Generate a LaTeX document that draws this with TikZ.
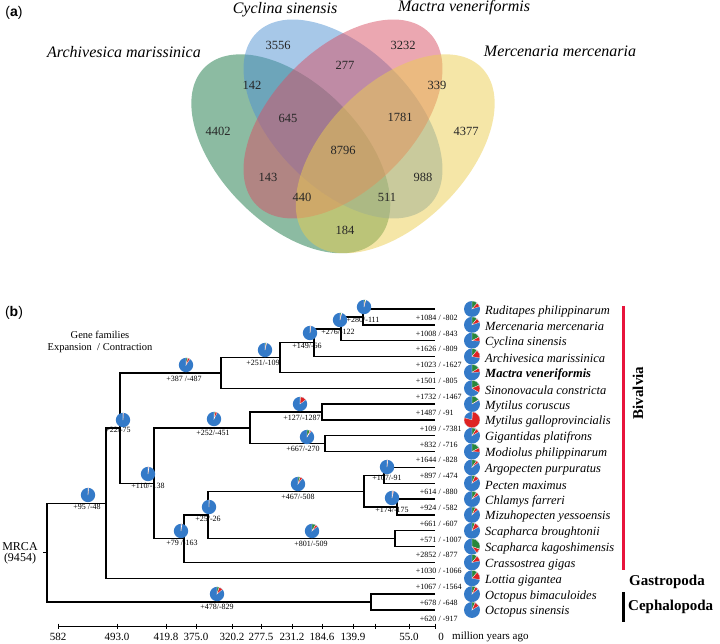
\documentclass[tikz,border=0pt]{standalone}
\usepackage{fontspec}
\setmainfont{Liberation Serif}
\newfontfamily\labsans{Liberation Sans}
\definecolor{vgreen}{RGB}{25,120,70}
\definecolor{vblue}{RGB}{80,145,210}
\definecolor{vred}{RGB}{215,80,100}
\definecolor{vyellow}{RGB}{235,205,80}
\definecolor{pblue}{RGB}{52,122,200}
\definecolor{pgreen}{RGB}{40,135,60}
\definecolor{pred}{RGB}{222,35,35}
\definecolor{barred}{RGB}{232,20,60}
\newcommand\mypie[5]{%
  \pgfmathsetmacro\pga{90-0.0380791*#3}%
  \pgfmathsetmacro\pgb{\pga-0.0380791*#4}%
  \fill[pblue] (#1,#2) circle[radius=#5];
  \fill[pgreen,draw=white,line width=0.25pt] (#1,#2) -- ++(90:#5) arc[start angle=90,end angle=\pga,radius=#5] -- cycle;
  \fill[pred,draw=white,line width=0.25pt] (#1,#2) -- ++(\pga:#5) arc[start angle=\pga,end angle=\pgb,radius=#5] -- cycle;
}
\begin{document}
\begin{tikzpicture}[x=1pt,y=-1pt,
  br/.style={line width=1.4pt},
  sp/.style={anchor=west, inner sep=0pt, font=\fontsize{12.5}{14}\selectfont\itshape},
  lab/.style={inner sep=0pt, font=\fontsize{8}{9}\selectfont},
  vnum/.style={font=\fontsize{12.5}{14}\selectfont, text=black!85},
  vname/.style={font=\fontsize{16}{18}\selectfont\itshape},
  grp/.style={font=\fontsize{15}{17}\selectfont\bfseries, inner sep=0pt},
  panel/.style={font=\fontsize{14}{16}\selectfont\labsans, inner sep=0pt},
  tk/.style={font=\fontsize{11}{12}\selectfont, inner sep=0pt}]
\useasboundingbox (0,0) rectangle (720,644);

% ---------- (a) Venn ----------
\node[panel] (pa) at (14,13) {(\textbf{a})};
\fill[vgreen, fill opacity=.5, rotate around={-45:(290.8,153.8)}] (290.8,153.8) ellipse [x radius=122pt, y radius=70pt];
\fill[vblue, fill opacity=.5, rotate around={-45:(343,119)}] (343,119) ellipse [x radius=122pt, y radius=70pt];
\fill[vred, fill opacity=.5, rotate around={45:(343,119)}] (343,119) ellipse [x radius=122pt, y radius=70pt];
\fill[vyellow, fill opacity=.5, rotate around={45:(395.2,153.8)}] (395.2,153.8) ellipse [x radius=122pt, y radius=70pt];

\node[vname] (nB) at (285,10) {Cyclina sinensis};
\node[vname] (nC) at (464,8) {Mactra veneriformis};
\node[vname] (nA) at (124,52) {Archivesica marissinica};
\node[vname] (nD) at (560,51) {Mercenaria mercenaria};

\node[vnum] (r1) at (278,45) {3556};
\node[vnum] (r2) at (403,45) {3232};
\node[vnum] (r3) at (345,65) {277};
\node[vnum] (r4) at (252,85) {142};
\node[vnum] (r5) at (437,85) {339};
\node[vnum] (r6) at (288,118) {645};
\node[vnum] (r7) at (400,117) {1781};
\node[vnum] (r8) at (218,131) {4402};
\node[vnum] (r9) at (466,131) {4377};
\node[vnum] (r10) at (343,150) {8796};
\node[vnum] (r11) at (268,177) {143};
\node[vnum] (r12) at (423,177) {988};
\node[vnum] (r13) at (302,197) {440};
\node[vnum] (r14) at (387,197) {511};
\node[vnum] (r15) at (345,230) {184};

% ---------- (b) tree ----------
\node[panel] (pb) at (14,313) {(\textbf{b})};
\node[font=\fontsize{10.5}{12}\selectfont, align=center, inner sep=0pt] (gf) at (100,342) {Gene families\\Expansion\ \ / Contraction};

\foreach \i in {0,...,19}{
  \pgfmathsetmacro\yy{309+15.84*\i}
  \coordinate (t\i) at (435,\yy);
}
\coordinate (n1) at (363,316.9);
\coordinate (n2) at (341,328.8);
\coordinate (n3) at (314,342.6);
\coordinate (n4) at (280,357.5);
\coordinate (n5) at (221,372.9);
\coordinate (n6) at (322,412.0);
\coordinate (n7) at (325,443.6);
\coordinate (n8) at (250,427.8);
\coordinate (n15) at (384,475.3);
\coordinate (n16) at (397,507.0);
\coordinate (n13) at (364,491.2);
\coordinate (n14) at (395,538.7);
\coordinate (n12) at (208,514.9);
\coordinate (n11) at (184,538.7);
\coordinate (n10) at (154,483.2);
\coordinate (n9) at (120,428.0);
\coordinate (nL) at (106,503.2);
\coordinate (nO) at (371,602.0);
\coordinate (root) at (47,552.6);
\coordinate (rootstub) at (43,552.6);

\draw[br] (t0) -| (n1) |- (t1);
\draw[br] (n1) -| (n2) |- (t2);
\draw[br] (n2) -| (n3) |- (t3);
\draw[br] (n3) -| (n4) |- (t4);
\draw[br] (n4) -| (n5) |- (t5);
\draw[br] (t6) -| (n6) |- (t7);
\draw[br] (t8) -| (n7) |- (t9);
\draw[br] (n6) -| (n8) |- (n7);
\draw[br] (t10) -| (n15) |- (t11);
\draw[br] (t12) -| (n16) |- (t13);
\draw[br] (n15) -| (n13) |- (n16);
\draw[br] (t14) -| (n14) |- (t15);
\draw[br] (n13) -| (n12) |- (n14);
\draw[br] (n12) -| (n11) |- (t16);
\draw[br] (n8) -| (n10) |- (n11);
\draw[br] (n5) -| (n9) |- (n10);
\draw[br] (n9) -| (nL) |- (t17);
\draw[br] (t18) -| (nO) |- (t19);
\draw[br] (nL) -| (root) |- (nO);
\draw[br] (root) -- (rootstub);
\node[font=\fontsize{12}{12}\selectfont, align=center, inner sep=0pt] (mrca) at (20,553.5) {MRCA\\[-1pt](9454)};

% tips
\foreach \i/\e/\c/\sp in {
 0/1084/802/Ruditapes philippinarum,
 1/1008/843/Mercenaria mercenaria,
 2/1626/809/Cyclina sinensis,
 3/1023/1627/Archivesica marissinica,
 4/1501/805/\textbf{Mactra veneriformis},
 5/1732/1467/Sinonovacula constricta,
 6/1487/91/Mytilus coruscus,
 7/109/7381/Mytilus galloprovincialis,
 8/832/716/Gigantidas platifrons,
 9/1644/828/Modiolus philippinarum,
 10/897/474/Argopecten purpuratus,
 11/614/880/Pecten maximus,
 12/924/582/Chlamys farreri,
 13/661/607/Mizuhopecten yessoensis,
 14/571/1007/Scapharca broughtonii,
 15/2852/877/Scapharca kagoshimensis,
 16/1030/1066/Crassostrea gigas,
 17/1067/1564/Lottia gigantea,
 18/678/648/Octopus bimaculoides,
 19/620/917/Octopus sinensis}{
  \pgfmathsetmacro\yy{309+15.84*\i}
  \node[lab, anchor=base east] (e\i) at (436.5,\yy+11.3) {+\e};
  \node[lab, anchor=base west] (c\i) at (e\i.base east) {\ / -\c};
  \node[sp] (s\i) at (485,\yy+2) {\sp};
  \mypie{472}{\yy}{\e}{\c}{8pt}
}

% internal node pies and labels
\foreach \px/\py/\lx/\ly/\e/\c/\t [count=\k] in {
 364/307/363/320/280/111/{+280/-111},
 340/320/338/332/276/122/{+276/-122},
 310/333/307/346/149/66/{+149/-66},
 265/350/263/363/251/109/{+251/-109},
 186/365/184/379/387/487/{+387 /-487},
 300/404/302/418/127/1287/{+127/-1287},
 307/437/303/449/667/270/{+667/-270},
 214/419/213/433/252/451/{+252/-451},
 123/420/118/430/22/75/{+22/-75},
 148/474/148/486/110/138/{+110/-138},
 181/531/182/543/79/163/{+79 /-163},
 209/507/208/519/25/26/{+25/-26},
 298/484/298/497/467/508/{+467/-508},
 312/531/311/544/801/509/{+801/-509},
 387/467/387/478/107/91/{+107/-91},
 392/498/392/510/174/175/{+174/-175},
 88/495/87/507/95/48/{+95 /-48},
 217/594/217/607/478/829/{+478/-829}}{
  \node[lab] (il\k) at (\lx,\ly) {\t};
  \mypie{\px}{\py}{\e}{\c}{7.2pt}
}

% groups
\draw[barred, line width=3pt] (623,306) coordinate (bv1) -- (623,570) coordinate (bv2);
\draw[black, line width=3pt] (623,592) coordinate (cp1) -- (623,622) coordinate (cp2);
\node[grp, rotate=90] (biv) at (638,393) {Bivalvia};
\node[grp, anchor=west] (gas) at (629,582) {Gastropoda};
\node[grp, anchor=west] (cep) at (628,607) {Cephalopoda};

% time axis
\coordinate (ax0) at (58,626);
\coordinate (ax1) at (435,626);
\draw[line width=0.8pt] (ax0) -- (ax1);
\foreach \x/\l in {58/582, 117/493.0, 166/419.8, 196/375.0, 232/320.2, 261/277.5, 292/231.2, 322/184.6, 353/139.9, 409/55.0}{
  \draw[line width=0.8pt] (\x,623.5) -- (\x,628.5);
  \node[tk] (tk\x) at (\x,637) {\l};
}
\draw[line width=0.8pt] (375,623.5) -- (375,628.5);
\draw[line width=0.8pt] (435,623.5) -- (435,628.5);
\node[tk] (tk0) at (441,637) {0};
\node[tk, anchor=west] (mya) at (452,637) {million years ago};
\end{tikzpicture}
\end{document}
